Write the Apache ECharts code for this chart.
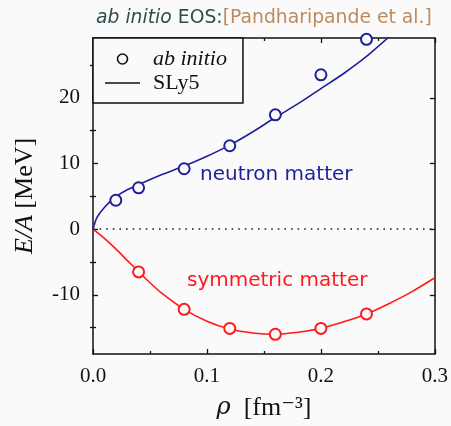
<!DOCTYPE html>
<html>
<head>
<meta charset="utf-8">
<script src="https://cdn.jsdelivr.net/npm/echarts@6/dist/echarts.min.js"></script>
<style>html,body{margin:0;padding:0;background:#fafafa;}#c{width:451px;height:426px;}</style>
</head>
<body>
<div id="c"></div>
<script>
// ab initio points
const rhoNeutronAb = [0.02, 0.04, 0.08, 0.12, 0.16, 0.20, 0.24];
const neutronAb = [4.4, 6.3, 9.2, 12.7, 17.4, 23.5, 28.9];
const rhoSymAb = [0.04, 0.08, 0.12, 0.16, 0.20, 0.24];
const symAb = [-6.5, -12.2, -15.1, -16.0, -15.1, -12.9];
// SLy5 curves
const rhoCurveN = [0, 0.0025, 0.005, 0.01, 0.015, 0.02, 0.03, 0.04, 0.06, 0.08, 0.10, 0.12, 0.14, 0.16, 0.18, 0.20, 0.22, 0.24, 0.26];
const neutronSLy5 = [0, 1.4, 2.2, 3.3, 4.2, 4.95, 6.0, 6.8, 8.3, 9.6, 11.1, 12.8, 14.8, 17.0, 19.1, 21.4, 23.7, 26.3, 29.3];
const rhoCurveS = [0, 0.01, 0.02, 0.03, 0.04, 0.05, 0.06, 0.08, 0.10, 0.12, 0.14, 0.16, 0.18, 0.20, 0.22, 0.24, 0.26, 0.28, 0.30];
const symSLy5 = [0, -1.4, -3.0, -4.75, -6.45, -8.15, -9.7, -12.2, -14.0, -15.2, -15.8, -16.0, -15.7, -15.1, -14.1, -12.9, -11.3, -9.5, -7.4];
// ticks
const yMajorTicks = [-10, 0, 10, 20];
const yMinorTicks = [-15, -5, 5, 15, 25];
const xTickLabels = ['0.0', '0.1', '0.2', '0.3'];

const BLUE = '#1f1f9c', RED = '#ff1a1a', BG = '#fafafa';
const SERIF = '"Liberation Serif", "DejaVu Serif", serif';
const SANS = '"DejaVu Sans", sans-serif';
const TSANS = '"DejaVu Sans", sans-serif';
const pairs = (xs, ys) => xs.map((x, i) => [x, ys[i]]);

const chart = echarts.init(document.getElementById('c'), null, {renderer: 'canvas'});
const X = {min: 0, max: 0.3, interval: 0.1};
const lineCol = '#111';
const tick = (len, vals) => ({show: true, inside: true, length: len, lineStyle: {color: lineCol, width: 1.3}, customValues: vals});
chart.setOption({
  backgroundColor: BG,
  animation: false,
  title: {
    left: 91, top: 4,
    text: '{i|ab initio} {n|EOS:}{t|[Pandharipande et al.]}',
    textStyle: {
      fontFamily: TSANS, fontSize: 18.8, fontWeight: 'normal',
      rich: {
        i: {fontFamily: TSANS, fontSize: 18.8, fontWeight: 'normal', fontStyle: 'italic', color: '#2f4f4f'},
        n: {fontFamily: TSANS, fontSize: 18.8, fontWeight: 'normal', color: '#2f4f4f'},
        t: {fontFamily: TSANS, fontSize: 18.8, fontWeight: 'normal', color: '#bd8b5e'}
      }
    }
  },
  grid: {left: 93, right: 16, top: 38, bottom: 72, containLabel: false},
  legend: {
    orient: 'vertical', left: 93, top: 38,
    selectedMode: false,
    backgroundColor: BG, borderColor: '#111', borderWidth: 1.5, borderRadius: 0,
    padding: [10, 16, 9, 12], itemGap: 2, itemWidth: 35, itemHeight: 10,
    z: 10,
    data: [
      {name: 'ab initio', icon: 'circle', itemStyle: {color: BG, borderColor: '#111', borderWidth: 1.6, opacity: 1}},
      {name: 'SLy5', icon: 'path://M0,0H35V1.6H0Z', itemStyle: {color: '#111', borderWidth: 0, opacity: 1}}
    ],
    formatter: n => n === 'ab initio' ? '{i|ab initio}' : '{n|SLy5}',
    textStyle: {
      fontFamily: SERIF, fontSize: 22, color: '#111', lineHeight: 22,
      rich: {
        i: {fontFamily: SERIF, fontSize: 22, fontStyle: 'italic', color: '#111', padding: [0, 0, 0, 8], lineHeight: 22},
        n: {fontFamily: SERIF, fontSize: 22, color: '#111', padding: [0, 0, 0, 8], lineHeight: 22}
      }
    }
  },
  xAxis: [
    {type: 'value', position: 'bottom', ...X,
      name: '{i|ρ}  [fm⁻³]', nameLocation: 'middle', nameGap: 41,
      nameTextStyle: {fontFamily: SERIF, fontSize: 26, color: '#111',
        rich: {i: {fontFamily: '"DejaVu Serif", serif', fontSize: 24, fontStyle: 'italic', color: '#111'}}},
      axisLine: {show: true, onZero: false, lineStyle: {color: lineCol, width: 1.5}},
      axisTick: {show: true, inside: true, length: 5, lineStyle: {color: lineCol, width: 1.3}},
      minorTick: {show: true, splitNumber: 2, length: 3, lineStyle: {color: lineCol, width: 1.3}},
      axisLabel: {show: true, margin: 12, fontFamily: SERIF, fontSize: 21, color: '#111',
        formatter: v => xTickLabels[Math.round(v * 10)]},
      splitLine: {show: false}
    },
    {type: 'value', position: 'top', ...X,
      axisLine: {show: true, onZero: false, lineStyle: {color: lineCol, width: 1.5}},
      axisTick: {show: true, inside: true, length: 5, lineStyle: {color: lineCol, width: 1.3}},
      minorTick: {show: true, splitNumber: 2, length: 3, lineStyle: {color: lineCol, width: 1.3}},
      axisLabel: {show: false}, splitLine: {show: false}
    }
  ],
  yAxis: [
    {type: 'value', position: 'left', min: -19, max: 29.1,
      name: '{i|E/A} [MeV]', nameLocation: 'middle', nameGap: 55, nameRotate: 90,
      nameTextStyle: {fontFamily: SERIF, fontSize: 26, color: '#111',
        rich: {i: {fontFamily: SERIF, fontSize: 26, fontStyle: 'italic', color: '#111'}}},
      axisLine: {show: true, onZero: false, lineStyle: {color: lineCol, width: 1.5}},
      axisTick: tick(5, yMajorTicks),
      axisLabel: {show: true, margin: 13, fontFamily: SERIF, fontSize: 21, color: '#111', customValues: yMajorTicks},
      splitLine: {show: false}
    },
    {type: 'value', position: 'left', min: -19, max: 29.1,
      axisLine: {show: false}, axisTick: tick(3, yMinorTicks),
      axisLabel: {show: false}, splitLine: {show: false}
    },
    {type: 'value', position: 'right', min: -19, max: 29.1,
      axisLine: {show: true, onZero: false, lineStyle: {color: lineCol, width: 1.5}},
      axisTick: tick(5, yMajorTicks),
      axisLabel: {show: false}, splitLine: {show: false}
    },
    {type: 'value', position: 'right', min: -19, max: 29.1,
      axisLine: {show: false}, axisTick: tick(3, yMinorTicks),
      axisLabel: {show: false}, splitLine: {show: false}
    }
  ],
  series: [
    {type: 'line', name: 'neutron SLy5', data: pairs(rhoCurveN, neutronSLy5), smooth: 0.25,
      showSymbol: false, symbol: 'none', lineStyle: {color: BLUE, width: 1.6}, z: 2, clip: true,
      markLine: {silent: true, symbol: ['none', 'none'], label: {show: false},
        lineStyle: {color: '#222', width: 1.6, type: [1.6, 5]}, data: [{yAxis: 0}]}
    },
    {type: 'line', name: 'symmetric SLy5', data: pairs(rhoCurveS, symSLy5), smooth: 0.25,
      showSymbol: false, symbol: 'none', lineStyle: {color: RED, width: 1.6}, z: 2, clip: true},
    {type: 'scatter', name: 'neutron ab', data: pairs(rhoNeutronAb, neutronAb), symbol: 'circle', symbolSize: 11,
      itemStyle: {color: BG, borderColor: BLUE, borderWidth: 2, opacity: 1}, z: 3, clip: false},
    {type: 'scatter', name: 'symmetric ab', data: pairs(rhoSymAb, symAb), symbol: 'circle', symbolSize: 11,
      itemStyle: {color: BG, borderColor: RED, borderWidth: 2, opacity: 1}, z: 3, clip: false},
    {type: 'scatter', name: 'ab initio', data: [], itemStyle: {color: BG, borderColor: '#111', borderWidth: 1.6, opacity: 1}},
    {type: 'line', name: 'SLy5', data: [], symbol: 'none', showSymbol: false, lineStyle: {color: '#111', width: 1.6}, itemStyle: {color: '#111'}}
  ],
  graphic: [
    {type: 'text', x: 200, y: 175, z: 5, style: {text: 'neutron matter', font: '20px ' + SANS, fill: BLUE, align: 'left', verticalAlign: 'middle'}},
    {type: 'text', x: 187, y: 281, z: 5, style: {text: 'symmetric matter', font: '20px ' + SANS, fill: RED, align: 'left', verticalAlign: 'middle'}}
  ]
});
</script>
</body>
</html>
